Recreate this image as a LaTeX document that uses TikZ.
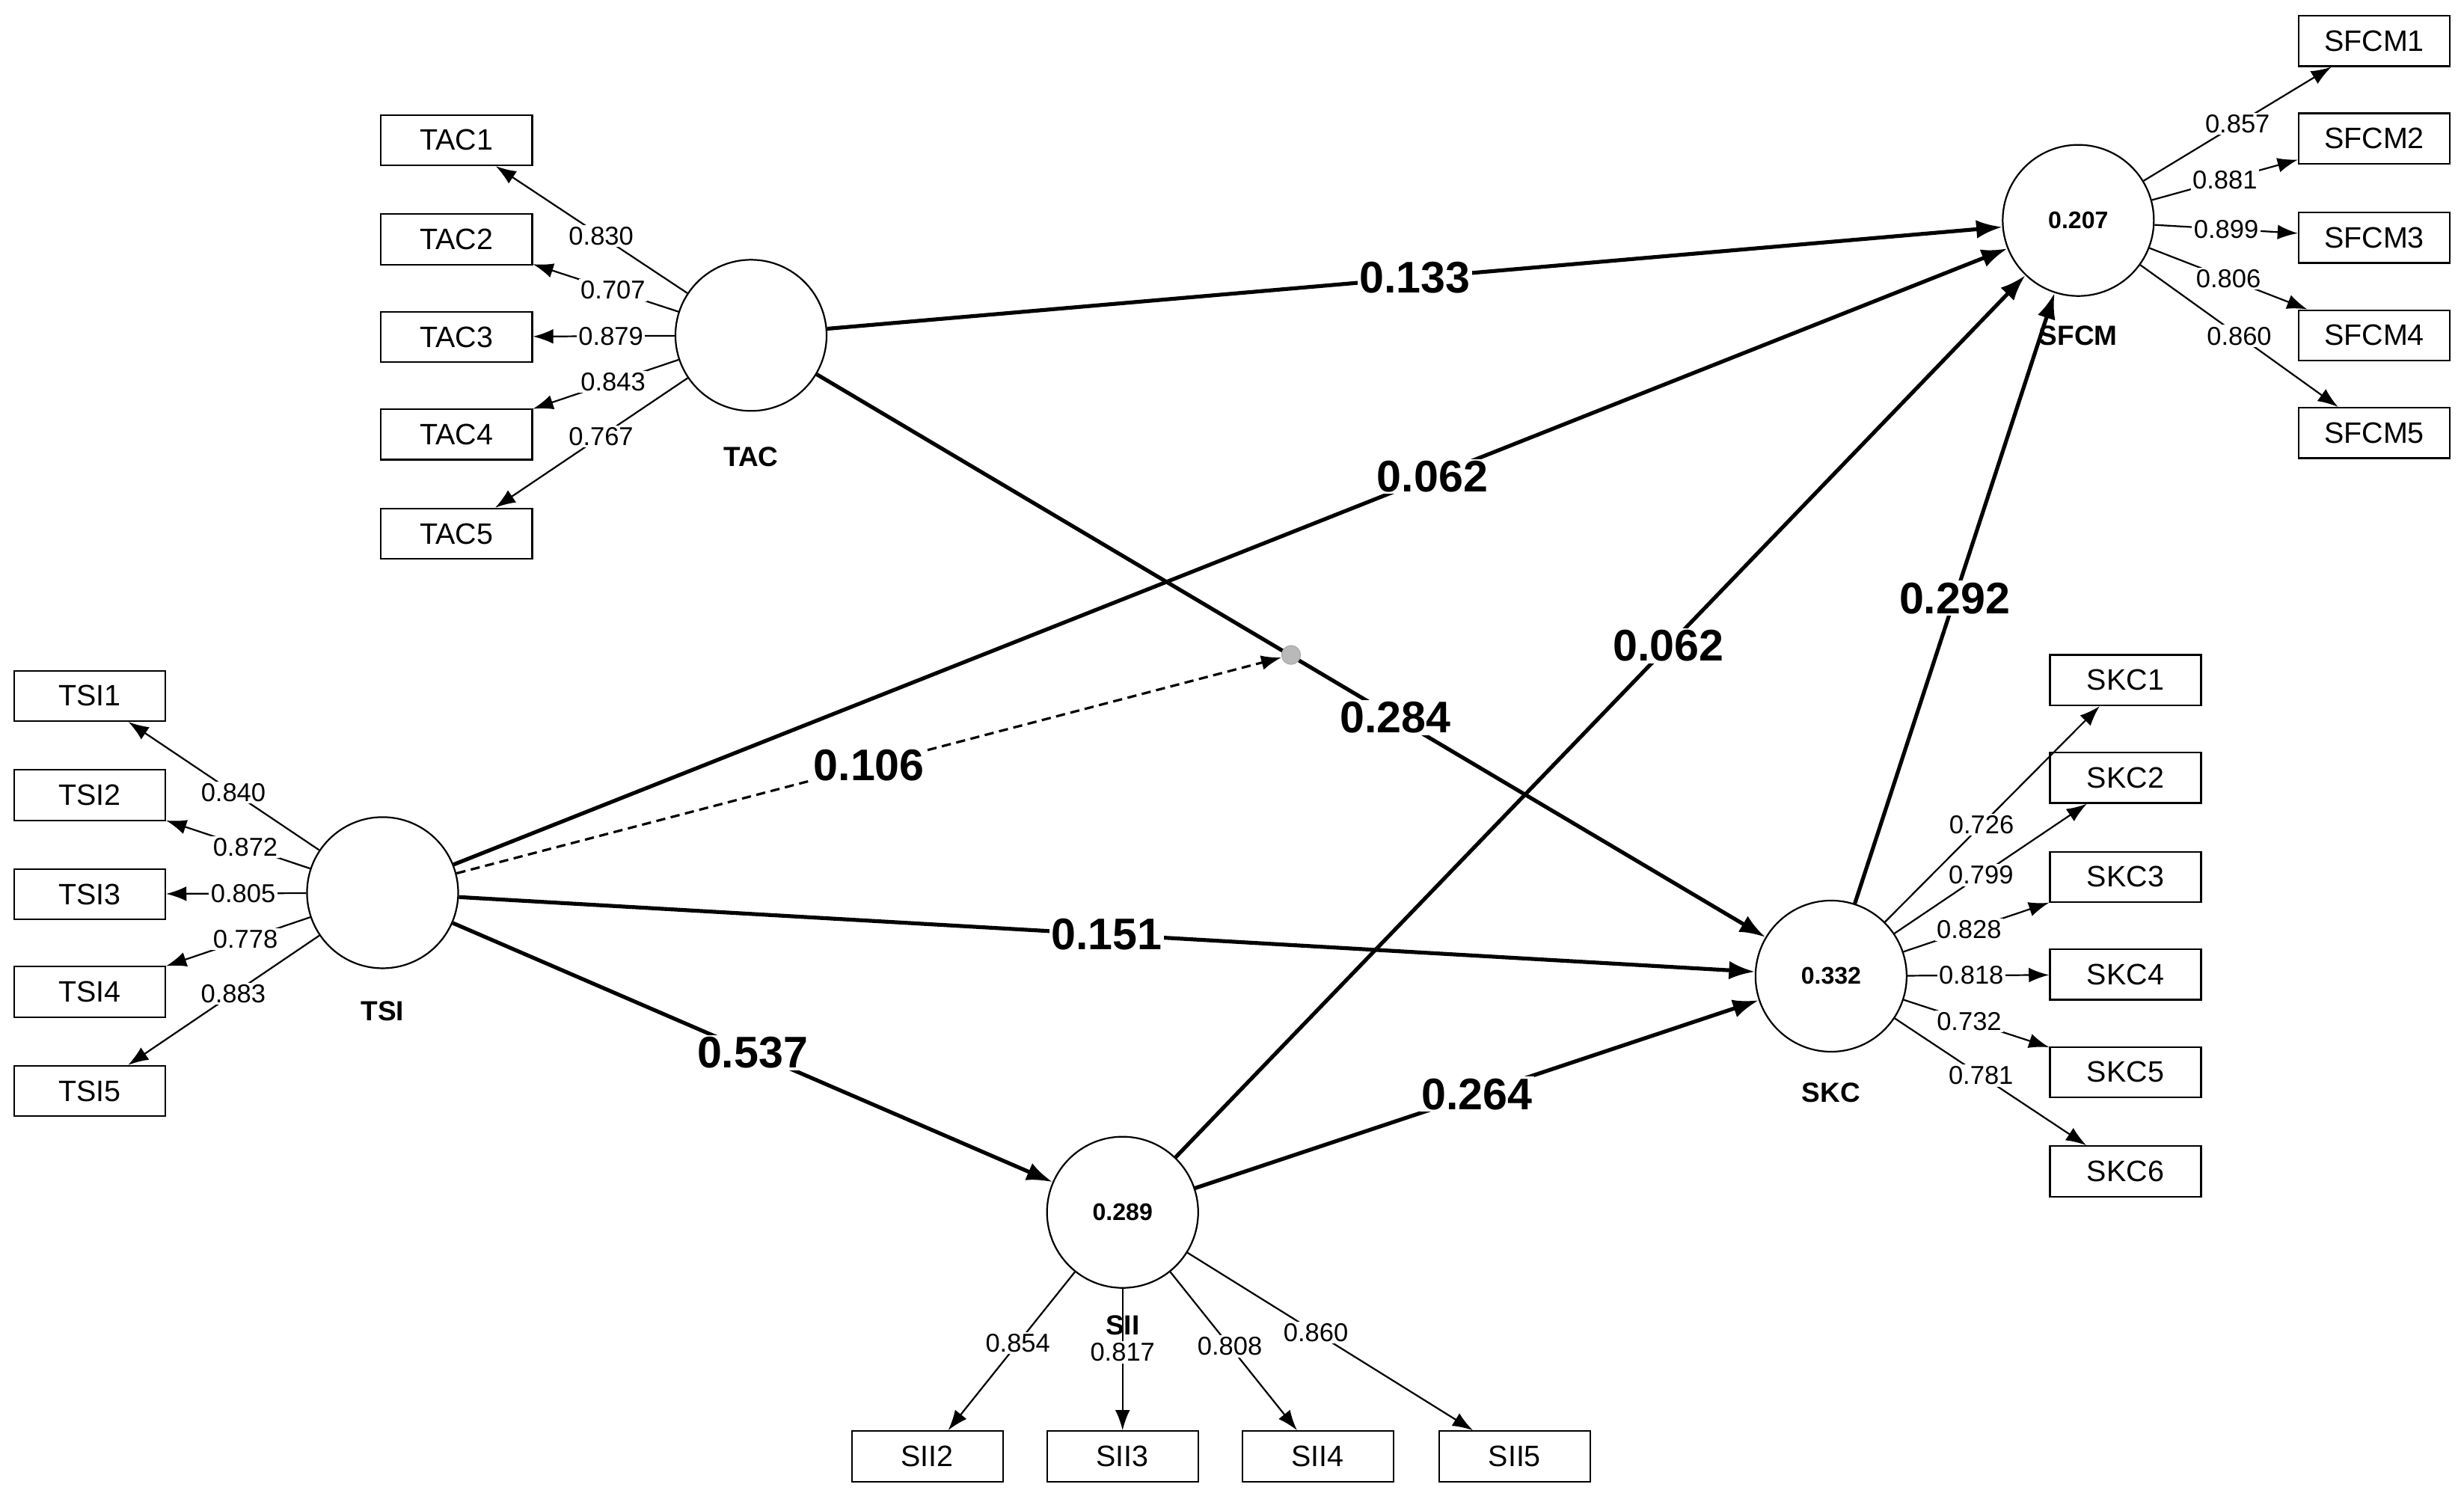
\documentclass[tikz,border=0pt]{standalone}
\usepackage{fontspec}
\setmainfont{Liberation Sans}
\usetikzlibrary{arrows.meta}
\begin{document}
\begin{tikzpicture}[x=0.03cm,y=-0.03cm,
 lv/.style={circle,draw,line width=0.9pt,minimum size=2.88cm,inner sep=0pt,font=\fontsize{13}{15}\selectfont\bfseries},
 ind/.style={rectangle,draw,line width=0.9pt,minimum width=2.88cm,minimum height=0.96cm,inner sep=0pt,font=\fontsize{16}{18}\selectfont},
 cl/.style={font=\fontsize{15}{17}\selectfont\bfseries},
 ld/.style={-{Latex[length=11pt,width=8pt]},line width=0.9pt},
 pth/.style={-{Latex[length=14pt,width=10pt]},line width=2.1pt},
 ll/.style={fill=white,inner sep=1pt,font=\fontsize{14}{16}\selectfont},
 pl/.style={fill=white,inner sep=1pt,font=\fontsize{24}{27}\selectfont\bfseries}]
\useasboundingbox (0,0) rectangle (1565,952);
% latent
\node[lv] (TAC) at (477,213) {};
\node[cl] at (477,290) {TAC};
\node[lv] (TSI) at (243,567) {};
\node[cl] at (243,642) {TSI};
\node[lv] (SII) at (713,770) {0.289};
\node[cl] at (713,842) {SII};
\node[lv] (SKC) at (1163,620) {0.332};
\node[cl] at (1163,694) {SKC};
\node[lv] (SFCM) at (1320,140) {0.207};
\node[cl] at (1320,213) {SFCM};
% indicators
\foreach \i/\y/\v in {1/89/0.830,2/152/0.707,3/214/0.879,4/276/0.843,5/339/0.767}{
 \node[ind] (TAC\i) at (290,\y) {TAC\i};
 \draw[ld] (TAC) -- (TAC\i) node[ll,pos=0.45] {\v};}
\foreach \i/\y/\v in {1/442/0.840,2/505/0.872,3/568/0.805,4/630/0.778,5/693/0.883}{
 \node[ind] (TSI\i) at (57,\y) {TSI\i};
 \draw[ld] (TSI) -- (TSI\i) node[ll,pos=0.45] {\v};}
\foreach \i/\x/\v/\p in {2/589/0.854/0.45,3/713/0.817/0.45,4/837/0.808/0.47,5/962/0.860/0.45}{
 \node[ind] (SII\i) at (\x,925) {SII\i};
 \draw[ld] (SII) -- (SII\i) node[ll,pos=\p] {\v};}
\foreach \i/\y/\v in {1/432/0.726,2/494/0.799,3/557/0.828,4/619/0.818,5/681/0.732,6/744/0.781}{
 \node[ind] (SKC\i) at (1350,\y) {SKC\i};
 \draw[ld] (SKC) -- (SKC\i) node[ll,pos=0.45] {\v};}
\foreach \i/\y/\v in {1/26/0.857,2/88/0.881,3/151/0.899,4/213/0.806,5/275/0.860}{
 \node[ind] (SFCM\i) at (1508,\y) {SFCM\i};
 \draw[ld] (SFCM) -- (SFCM\i) node[ll,pos=0.5] {\v};}
% structural paths
\draw[pth] (TAC) -- (SFCM) node[pl,pos=0.5] {0.133};
\draw[pth] (TSI) -- (SFCM) node[pl,pos=0.63] {0.062};
\draw[pth] (TAC) -- (SKC) node[pl,pos=0.61] {0.284};
\draw[pth] (SII) -- (SFCM) node[pl,pos=0.58] {0.062};
\draw[pth] (SKC) -- (SFCM) node[pl,pos=0.5] {0.292};
\draw[pth] (TSI) -- (SKC) node[pl,pos=0.5] {0.151};
\draw[pth] (TSI) -- (SII) node[pl,pos=0.5] {0.537};
\draw[pth] (SII) -- (SKC) node[pl,pos=0.5] {0.264};
\node[circle,fill=gray!55,draw=gray!70,minimum size=0.36cm,inner sep=0pt] (dot) at (820,416) {};
\draw[-{Latex[length=11pt,width=8pt]},line width=1.3pt,dash pattern=on 5pt off 3pt] (TSI) -- (dot) node[pl,pos=0.5] {0.106};
\end{tikzpicture}
\end{document}
